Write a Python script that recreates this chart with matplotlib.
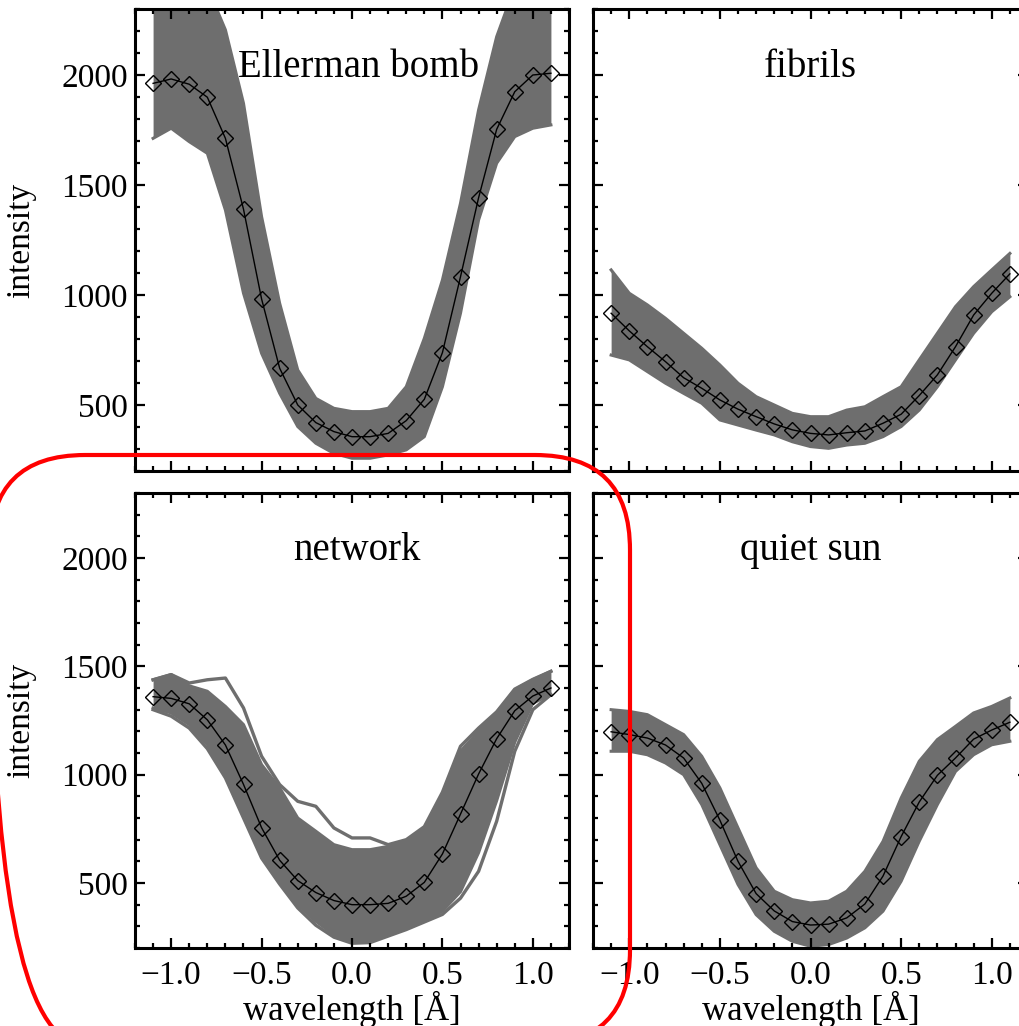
import matplotlib
matplotlib.use('Agg')
import matplotlib.pyplot as plt
from matplotlib.patches import FancyBboxPatch
from matplotlib.ticker import MultipleLocator

plt.rcParams['font.family'] = ['Liberation Serif', 'DejaVu Serif']

# ---------------- data ----------------
wavelength = [-1.1, -1.0, -0.9, -0.8, -0.7, -0.6, -0.5, -0.4, -0.3, -0.2, -0.1,
              0.0, 0.1, 0.2, 0.3, 0.4, 0.5, 0.6, 0.7, 0.8, 0.9, 1.0, 1.1]

titles = ["Ellerman bomb", "fibrils", "network", "quiet sun"]

eb_mean = [1962, 1982, 1958, 1899, 1712, 1390, 982, 667, 500, 420, 379,
           356, 356, 371, 429, 526, 738, 1083, 1442, 1753, 1924, 2000, 2008]
eb_max = [2400, 2400, 2400, 2400, 2205, 1871, 1356, 962, 659, 530, 485,
          470, 470, 485, 583, 803, 1068, 1417, 1841, 2174, 2400, 2400, 2400]
eb_min = [1712, 1758, 1697, 1644, 1386, 1008, 735, 553, 402, 326, 280,
          258, 258, 273, 296, 356, 583, 917, 1341, 1599, 1720, 1758, 1773]

fib_mean = [917, 837, 765, 697, 624, 576, 523, 481, 447, 414, 387,
            371, 364, 374, 382, 417, 458, 543, 637, 765, 909, 1008, 1096]
fib_max = [1114, 1008, 955, 894, 826, 758, 682, 599, 538, 500, 462,
           447, 447, 477, 492, 538, 583, 705, 826, 947, 1038, 1114, 1189]
fib_min = [727, 705, 652, 599, 553, 508, 432, 409, 386, 364, 333,
           311, 303, 318, 326, 356, 402, 477, 583, 705, 826, 924, 992]

net_mean = [1360, 1352, 1327, 1253, 1137, 955, 755, 605, 511, 456, 419,
            400, 400, 406, 439, 503, 634, 818, 1003, 1166, 1295, 1363, 1400]
net_max = [1438, 1462, 1410, 1385, 1315, 1231, 1046, 939, 800, 739, 677,
           654, 654, 669, 692, 754, 908, 1108, 1200, 1285, 1392, 1438, 1477]
net_min = [1308, 1285, 1231, 1139, 1000, 816, 631, 508, 400, 323, 262,
           231, 231, 262, 293, 323, 370, 460, 640, 880, 1150, 1330, 1369]
net_outlier_hi = [1438, 1462, 1423, 1438, 1446, 1308, 1085, 954, 877, 854, 754,
                  708, 708, 677, 700, 760, 919, 1131, 1215, 1290, 1395, 1440, 1477]
net_outlier_lo = [1300, 1270, 1215, 1120, 985, 800, 615, 495, 385, 305, 250,
                  222, 225, 255, 285, 320, 355, 430, 554, 785, 1108, 1300, 1369]

qs_mean = [1198, 1185, 1169, 1137, 1077, 960, 790, 600, 451, 371, 322,
           306, 310, 339, 403, 532, 714, 874, 997, 1077, 1164, 1206, 1242]
qs_max = [1300, 1292, 1277, 1231, 1185, 1085, 939, 754, 570, 462, 423,
          408, 416, 462, 554, 692, 892, 1062, 1162, 1223, 1285, 1315, 1354]
qs_min = [1108, 1108, 1092, 1054, 1000, 862, 677, 493, 354, 277, 231,
          208, 216, 246, 293, 370, 508, 693, 862, 1015, 1092, 1138, 1154]

y_major = [500, 1000, 1500, 2000]

# ---------------- figure ----------------
W, H = 1019, 1026
fig = plt.figure(figsize=(W / 100, H / 100), dpi=100)
fig.patch.set_facecolor('white')


def ax_at(l, t, r, b):
    return fig.add_axes([l / W, 1 - b / H, (r - l) / W, (b - t) / H])


GRAY = '#6e6e6e'
panels = [
    ((135, 9, 569, 471), eb_mean, eb_max, eb_min, [], 0.515),
    ((593, 9, 1028, 471), fib_mean, fib_max, fib_min, [], 0.5),
    ((135, 493, 569, 948), net_mean, net_max, net_min, [net_outlier_hi, net_outlier_lo], 0.512),
    ((593, 493, 1028, 948), qs_mean, qs_max, qs_min, [], 0.5),
]

for i, (pos, mean, hi, lo, extra, tx) in enumerate(panels):
    ax = ax_at(*pos)
    ax.fill_between(wavelength, lo, hi, color=GRAY, lw=0, zorder=1)
    ax.plot(wavelength, hi, color=GRAY, lw=2.2, zorder=1)
    ax.plot(wavelength, lo, color=GRAY, lw=2.2, zorder=1)
    for e in extra:
        ax.plot(wavelength, e, color=GRAY, lw=2.4, zorder=1)
    ax.plot(wavelength, mean, color='black', lw=1.0, marker='D', ms=8.5,
            mfc='none', mec='black', mew=1.0, zorder=3)
    ax.set_xlim(-1.2, 1.2)
    ax.set_ylim(200, 2300)
    ax.xaxis.set_major_locator(MultipleLocator(0.5))
    ax.xaxis.set_minor_locator(MultipleLocator(0.1))
    ax.set_yticks(y_major)
    ax.yaxis.set_minor_locator(MultipleLocator(100))
    ax.tick_params(which='both', direction='in', top=True, right=True,
                   width=1.6, labelsize=24, colors='black')
    ax.tick_params(which='major', length=7)
    ax.tick_params(which='minor', length=3.5)
    ax.tick_params(axis='x', which='major', pad=9)
    ax.tick_params(axis='y', which='major', pad=5)
    for s in ax.spines.values():
        s.set_linewidth(2.2)
    ax.text(tx, (1990 - 200) / 2100, titles[i], transform=ax.transAxes,
            fontsize=28, ha='center', va='baseline')
    if i < 2:
        ax.tick_params(labelbottom=False)
    else:
        ax.set_xlabel('wavelength [Å]', fontsize=25)
        ax.xaxis.set_label_coords(0.5, -0.158)
        ax.xaxis.label.set_va('baseline')
    if i % 2 == 1:
        ax.tick_params(labelleft=False)
    else:
        ax.set_ylabel('intensity', fontsize=24)
        ax.yaxis.set_label_coords(-0.227, 0.5)

# red rounded rectangle annotation
box = FancyBboxPatch((-0.10, -0.19), 6.40, 5.90,
                     boxstyle='round,pad=0,rounding_size=0.95',
                     transform=fig.dpi_scale_trans, fill=False,
                     ec='#ff0000', lw=3, zorder=100, clip_on=False)
fig.add_artist(box)

fig.savefig('out.png', dpi=100)
